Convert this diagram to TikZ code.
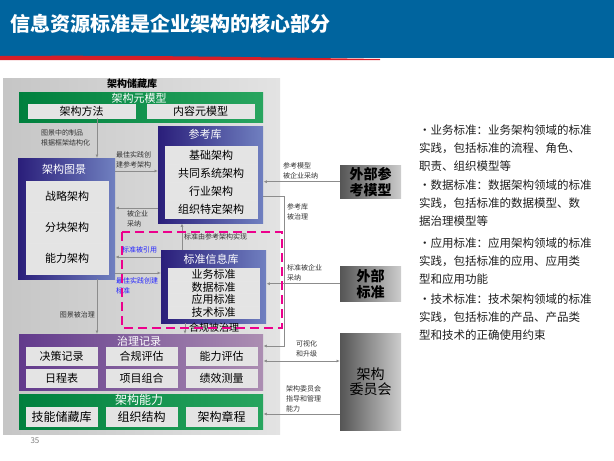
\documentclass[tikz,border=0pt]{standalone}
\usepackage{fontspec}
\setmainfont{Noto Sans CJK SC}
\usetikzlibrary{arrows.meta}
\definecolor{hdrblue}{RGB}{0,100,158}
\definecolor{hdrred}{RGB}{215,30,40}
\definecolor{navyL}{RGB}{42,30,122}
\definecolor{navyR}{RGB}{112,128,192}
\definecolor{purpL}{RGB}{98,58,140}
\definecolor{purpR}{RGB}{172,142,178}
\definecolor{greenL}{RGB}{0,128,62}
\definecolor{greenR}{RGB}{40,165,95}
\definecolor{itemgray}{RGB}{228,228,228}
\definecolor{extL}{RGB}{85,85,85}
\definecolor{extR}{RGB}{205,205,205}
\definecolor{conngray}{RGB}{140,140,140}
\definecolor{bullettext}{RGB}{30,30,30}
\newcommand{\fsz}[1]{\fontsize{#1}{#1}\selectfont}
\tikzset{
  area/.style={anchor=north west,inner sep=0pt},
  navybox/.style={area,left color=navyL,right color=navyR},
  purplebox/.style={area,left color=purpL,right color=purpR},
  greenbox/.style={area,left color=greenL,right color=greenR},
  extbox/.style={area,left color=extL,right color=extR,align=center,text=black,font=\fontsize{14}{16}\selectfont\bfseries},
  item/.style={area,fill=itemgray,draw=white!80!gray,font=\fsz{11}},
  boxtitle/.style={text=white,inner sep=0pt,font=\fsz{11}},
  note/.style={anchor=north west,inner sep=0pt,align=left,text=black!80,font=\fontsize{7}{10}\selectfont},
  bluenote/.style={note,text=blue!85},
  bullet/.style={anchor=north west,inner sep=0pt,align=left,text=bullettext,font=\fontsize{11.5}{18}\selectfont},
  conn/.style={draw=conngray,line width=0.9pt},
  >={Latex[length=3.5pt,width=3pt]}
}
\begin{document}
\begin{tikzpicture}[x=1pt,y=-1pt]
\useasboundingbox (0,0) rectangle (614,461);
% header
\fill[hdrblue] (0,0) rectangle (614,58);
\fill[hdrred] (0,56) .. controls (120,55) and (250,57) .. (380,59) -- (380,60) -- (0,60) -- cycle;
\node[anchor=west,text=white,inner sep=0pt,font=\fsz{20}\bfseries] (title) at (10,24) {信息资源标准是企业架构的核心部分};

% repository
\node[area,left color=gray!45,right color=gray!22,minimum width=277,minimum height=356] (repo) at (3,78) {};
\node[inner sep=0pt,font=\fsz{10}\bfseries] (repottl) at (132,84) {架构储藏库};

\node[greenbox,minimum width=244,minimum height=30] (meta) at (19,92) {};
\node[boxtitle] (metattl) at (139,98) {架构元模型};
\node[item,minimum width=107,minimum height=14] (method) at (28,104) {架构方法};
\node[item,minimum width=107,minimum height=14] (content) at (147,104) {内容元模型};

\node[navybox,minimum width=105,minimum height=97] (refs) at (158,126) {};
\node[boxtitle] (refsttl) at (205,134) {参考库};
\foreach \t [count=\i] in {基础架构,共同系统架构,行业架构,组织特定架构}
  \node[item,minimum width=92,minimum height=18] (ref\i) at (165,{146+18*(\i-1)}) {\t};

\node[navybox,minimum width=97,minimum height=121] (scape) at (18,158) {};
\node[boxtitle] (scapettl) at (64,169) {架构图景};
\foreach \t [count=\i] in {战略架构,分块架构,能力架构}
  \node[item,minimum width=82,minimum height=31] (scape\i) at (26,{181+31*(\i-1)}) {\t};

\node[navybox,minimum width=105,minimum height=73] (std) at (161,250) {};
\node[boxtitle] (stdttl) at (211,259) {标准信息库};
\foreach \t [count=\i] in {业务标准,数据标准,应用标准,技术标准}
  \node[item,minimum width=91,minimum height=12.5,font=\fsz{11}] (std\i) at (168,{268+12.5*(\i-1)}) {\t};

\node[purplebox,minimum width=244,minimum height=56] (gov) at (19,334) {};
\node[boxtitle] (govttl) at (139,341) {治理记录};
\foreach \t [count=\i] in {决策记录,合规评估,能力评估,日程表,项目组合,绩效测量}
  \node[item,minimum width=71,minimum height=17.5] (gov\i) at ({26+80*mod(\i-1,3)},{347+22*int((\i-1)/3)}) {\t};

\node[greenbox,minimum width=244,minimum height=35] (cap) at (19,394) {};
\node[boxtitle,font=\fsz{12}] (capttl) at (139,400) {架构能力};
\foreach \t [count=\i] in {技能储藏库,组织结构,架构章程}
  \node[item,minimum width=71,minimum height=19,font=\fsz{12}] (cap\i) at ({26+80*(\i-1)},407) {\t};

\node[text=gray,inner sep=0pt,font=\fsz{8}] (pgno) at (35,441) {35};

% outside
\node[extbox,minimum width=61,minimum height=33] (extref) at (340,165) {外部参\\考模型};
\node[extbox,minimum width=61,minimum height=35] (extstd) at (340,266) {外部\\标准};
\node[extbox,minimum width=61,minimum height=97,font=\fontsize{14}{15}\selectfont] (board) at (340,333) {架构\\委员会};

% links
\draw[conn,->] (97,0 |- method.south) -- (97,0 |- scape.north);
\node[note] (n1) at (41,129) {图景中的制品\\根据框架结构化};
\draw[conn,->] (scape.east |- 0,171) -- (refs.west |- 0,171);
\node[note,anchor=south west] (n2) at (116,168) {最佳实践创\\建参考架构};
\draw[conn,->] (refs.west |- 0,208) -- (scape.east |- 0,208);
\node[note] (n3) at (127,210) {被企业\\采纳};
\draw[conn,->] (std.west |- 0,257) -- (scape.east |- 0,257);
\node[bluenote,anchor=south west] (n4) at (122,253) {标准被引用};
\draw[conn,->] (scape.east |- 0,273) -- (std.west |- 0,273);
\node[bluenote] (n5) at (116,277) {最佳实践创建\\标准};
\draw[conn,->] (182,0 |- std.north) -- (182,0 |- refs.south);
\node[note,anchor=west] (n6) at (184,237) {标准由参考架构实现};
\draw[conn,->] (97,0 |- scape.south) -- (97,0 |- gov.north);
\node[note,anchor=east] (n7) at (95,315) {图景被治理};
\draw[conn,->] (185,0 |- std.south) -- (185,0 |- gov.north);
\node[note,anchor=west,text=black,font=\fsz{10}] (n8) at (189,328) {合规被治理};
\coordinate (bend) at (284,346);
\draw[conn,->] (refs.east |- 0,196) -| (bend) -- (gov.east |- bend);
\node[note] (n9) at (287,203) {参考库\\被治理};
\draw[conn,->] (extref.west) -- (extref.west -| refs.east);
\node[note,anchor=south west] (n10) at (283,179) {参考模型\\被企业采纳};
\draw[conn,->] (extstd.west) -- (extstd.west -| std.east);
\node[note,anchor=south west] (n11) at (287,281) {标准被企业\\采纳};
\draw[conn,<->] (gov.east |- 0,361) -- (board.west |- 0,361);
\node[note,anchor=south west] (n12) at (296,357) {可视化\\和升级};
\draw[conn,->] (board.west |- 0,414) -- (cap.east |- 0,414);
\node[note,anchor=south west] (n13) at (286,412) {架构委员会\\指导和管理\\能力};

\draw[magenta,line width=2pt,dash pattern=on 9pt off 5pt] (122,232) rectangle (282,328);

% bullets
\node[bullet] (b1) at (419,125) {•业务标准：业务架构领域的标准\\实践，包括标准的流程、角色、\\职责、组织模型等};
\node[bullet] (b2) at (419,180) {•数据标准：数据架构领域的标准\\实践，包括标准的数据模型、数\\据治理模型等};
\node[bullet] (b3) at (419,238) {•应用标准：应用架构领域的标准\\实践，包括标准的应用、应用类\\型和应用功能};
\node[bullet] (b4) at (419,294) {•技术标准：技术架构领域的标准\\实践，包括标准的产品、产品类\\型和技术的正确使用约束};
\end{tikzpicture}
\end{document}
